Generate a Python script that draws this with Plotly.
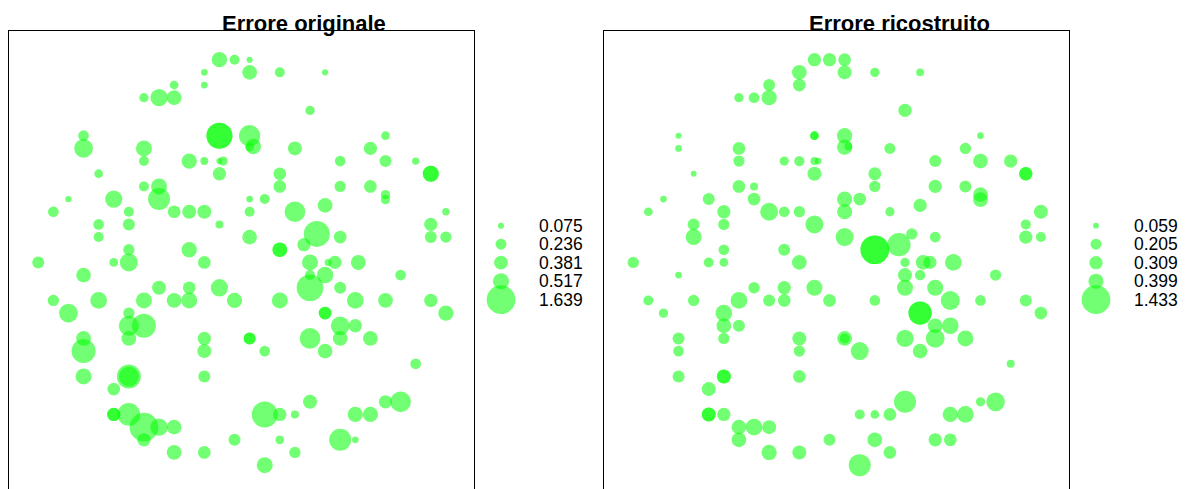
import plotly.graph_objects as go

# ---------------- data ----------------
# sampling locations (shared by both panels): east / north in grid units
east = [
    12, 13, 14,                                  # row 32
    11, 14, 16, 19,                              # 31
    9, 11,                                       # 30
    7, 8, 9,                                     # 29
    18,                                          # 28
    3, 12, 12, 14, 23,                           # 26
    3, 7, 14, 14.25, 17, 22,                     # 25
    7, 10, 11, 12, 12.25, 20, 23, 25,            # 24
    4, 12, 16, 26, 26,                           # 23
    7, 8, 16, 20, 22, 23,                        # 22
    2, 5, 8, 14, 15, 23, 19,                     # 21
    1, 6, 9, 10, 11, 14, 17, 27,                 # 20
    4, 6, 12, 26, 18.45,                         # 19
    4, 14, 20, 26, 27, 17.6,                     # 18
    6, 10, 16, 16,                               # 17
    0, 5, 6, 11, 18, 19.2, 19.65, 21.2,          # 16
    3, 18, 19, 24,                               # 15
    8, 10, 12, 18, 20,                           # 14
    1, 4, 7, 9, 10, 13, 16, 21, 23, 26,          # 13
    2, 6, 19, 19, 27,                            # 12
    6, 7, 20, 21,                                # 11
    3, 6, 11, 14, 14, 18, 20, 22,                # 10
    3, 11, 15, 19,                               # 9
    25,                                          # 8
    3, 6, 6, 11,                                 # 7
    5,                                           # 6
    18, 23, 24,                                  # 5
    5, 5, 6, 15, 16, 17, 21, 22,                 # 4
    7, 8, 9,                                     # 3
    7, 13, 16, 20, 21,                           # 2
    9, 11, 17,                                   # 1
    15,                                          # 0
]
north = [
    32, 32, 32,
    31, 31, 31, 31,
    30, 30,
    29, 29, 29,
    28,
    26, 26, 26, 26, 26,
    25, 25, 25.1, 25.15, 25, 25,
    24, 24, 24, 24, 24, 24, 24, 24,
    23, 23, 23, 23, 23,
    22, 22, 22, 22, 22, 21.35,
    21, 21, 21, 21, 21, 20.95, 20.5,
    20, 20, 20, 20, 20, 20, 20, 20,
    19, 19, 19, 19, 18.25,
    18, 18, 18, 18, 18, 17.4,
    17, 17, 17, 17,
    16, 16, 16, 16, 16, 16, 16, 16,
    15, 15, 15, 15,
    14, 14, 14, 14, 14,
    13, 13, 13, 13, 13, 13, 13, 13, 13, 13,
    12, 12, 12, 12, 12,
    11, 11, 11, 11,
    10, 10, 10, 10, 10, 10, 10, 10,
    9, 9, 9, 9,
    8,
    7, 7, 7, 7,
    6,
    5, 5, 5,
    4, 4, 4, 4, 4, 4, 4, 4,
    3, 3, 3,
    2, 2, 2, 2, 2,
    1, 1, 1,
    0,
]
err_orig = [
    0.466, 0.199, 0.075,
    0.089, 0.430, 0.199, 0.078,
    0.151, 0.089,
    0.172, 0.596, 0.430,
    0.172,
    0.228, 1.345, 1.345, 0.903, 0.151,
    0.696, 0.509, 0.161, 0.466, 0.390, 0.352,
    0.199, 0.466, 0.127, 0.075, 0.172, 0.228, 0.287, 0.106,
    0.151, 0.352, 0.321, 0.509, 0.509,
    0.199, 0.509, 0.321, 0.254, 0.321, 0.172,
    0.080, 0.596, 0.963, 0.089, 0.199, 0.172, 0.430,
    0.228, 0.199, 0.321, 0.390, 0.390, 0.199, 0.853, 0.106,
    0.228, 0.287, 0.127, 0.352, 1.345,
    0.199, 0.430, 0.321, 0.287, 0.254, 0.352,
    0.254, 0.466, 0.430, 0.430,
    0.287, 0.151, 0.645, 0.321, 0.509, 0.098, 0.352, 0.448,
    0.430, 0.199, 0.542, 0.228,
    0.390, 0.321, 0.596, 1.419, 0.287,
    0.254, 0.555, 0.509, 0.430, 0.509, 0.466, 0.509, 0.555, 0.430, 0.352,
    0.696, 0.254, 0.321, 0.321, 0.466,
    0.796, 1.146, 0.696, 0.352,
    0.430, 0.430, 0.352, 0.287, 0.287, 0.853, 0.430, 0.430,
    1.146, 0.390, 0.228, 0.430,
    0.228,
    0.509, 1.146, 0.796, 0.287,
    0.321,
    0.390, 0.352, 0.853,
    0.352, 0.352, 1.025, 1.345, 0.352, 0.127, 0.466, 0.466,
    1.639, 0.596, 0.430,
    0.352, 0.287, 0.151, 0.963, 0.089,
    0.430, 0.321, 0.254,
    0.509,
]
err_ric = [
    0.308, 0.308, 0.281,
    0.376, 0.341, 0.150, 0.111,
    0.250, 0.281,
    0.150, 0.199, 0.407,
    0.308,
    0.063, 0.132, 0.132, 0.407, 0.078,
    0.078, 0.281, 0.407, 0.111, 0.211, 0.222,
    0.222, 0.150, 0.185, 0.111, 0.078, 0.250, 0.376, 0.308,
    0.059, 0.341, 0.294, 0.308, 0.308,
    0.281, 0.111, 0.222, 0.308, 0.250, 0.376,
    0.078, 0.250, 0.281, 0.407, 0.281, 0.376, 0.308,
    0.132, 0.308, 0.564, 0.199, 0.222, 0.391, 0.150, 0.341,
    0.250, 0.222, 0.564, 0.174, 0.222,
    0.445, 0.564, 0.199, 0.308, 0.174, 0.945,
    0.199, 0.250, 1.433, 1.433,
    0.222, 0.174, 0.132, 0.376, 0.150, 0.376, 0.308, 0.485,
    0.078, 0.341, 0.192, 0.222,
    0.222, 0.308, 0.445, 0.445, 0.445,
    0.174, 0.222, 0.485, 0.250, 0.281, 0.281, 0.199, 0.628, 0.199, 0.250,
    0.150, 0.485, 0.945, 0.945, 0.281,
    0.376, 0.250, 0.376, 0.485,
    0.250, 0.222, 0.341, 0.376, 0.174, 0.521, 0.608, 0.445,
    0.199, 0.222, 0.564, 0.376,
    0.111,
    0.250, 0.341, 0.341, 0.281,
    0.341,
    0.842, 0.150, 0.608,
    0.341, 0.341, 0.308, 0.174, 0.132, 0.281, 0.407, 0.485,
    0.376, 0.485, 0.341,
    0.376, 0.250, 0.376, 0.308, 0.281,
    0.407, 0.341, 0.281,
    0.842,
]

leg_orig_vals = [0.075, 0.236, 0.381, 0.517, 1.639]
leg_orig_labels = ["0.075", "0.236", "0.381", "0.517", "1.639"]
leg_ric_vals = [0.059, 0.205, 0.309, 0.399, 1.433]
leg_ric_labels = ["0.059", "0.205", "0.309", "0.399", "1.433"]
titles = ["Errore originale", "Errore ricostruito"]

# ---------------- style / layout ----------------
W, H = 1194, 489
GREEN = "rgba(0,255,0,0.55)"
D_MAX = 28.7          # px diameter of the largest bubble
FONT = "Liberation Sans, Arial, Helvetica, sans-serif"
TOP_PX = 31.0
X_RANGE = [-1.918, 28.882]
Y_RANGE = [-1.883, 34.265]

fig = go.Figure()

panels = [
    dict(vals=err_orig, lv=leg_orig_vals, ll=leg_orig_labels, title=titles[0],
         left=9.3, n=""),
    dict(vals=err_ric, lv=leg_ric_vals, ll=leg_ric_labels, title=titles[1],
         left=604.3, n="2"),
]
leg_axes = ["3", "4"]

annotations = []
for p, la in zip(panels, leg_axes):
    sref = 2.0 * max(p["vals"]) / D_MAX ** 2
    xa = "x" + p["n"]
    ya = "y" + p["n"]
    fig.add_trace(go.Scatter(
        x=east, y=north, mode="markers", xaxis=xa, yaxis=ya,
        marker=dict(size=p["vals"], sizemode="area", sizeref=sref,
                    color=GREEN, opacity=1, line=dict(width=0)),
        hoverinfo="skip", showlegend=False))
    # legend bubbles
    fig.add_trace(go.Scatter(
        x=[26.7] * len(p["lv"]), y=list(range(len(p["lv"]))), mode="markers",
        xaxis="x" + la, yaxis="y" + la,
        marker=dict(size=p["lv"], sizemode="area", sizeref=sref,
                    color=GREEN, opacity=1, line=dict(width=0)),
        hoverinfo="skip", showlegend=False))
    for i, lab in enumerate(p["ll"]):
        annotations.append(dict(
            x=64.3, y=i, xref="x" + la, yref="y" + la, text=lab,
            showarrow=False, xanchor="left", yanchor="middle",
            borderpad=0, borderwidth=0,
            font=dict(family=FONT, size=17.5, color="black")))
    right = p["left"] + 465.0
    annotations.append(dict(
        x=(p["left"] + 294.7) / W, y=1 - 23.3 / H, xref="paper", yref="paper",
        text=p["title"], showarrow=False, xanchor="center", yanchor="middle",
        borderpad=0, borderwidth=0,
        font=dict(family=FONT, size=22, color="black", weight="bold")))
    xdom = [p["left"] / W, right / W]
    ydom = [0, 1 - TOP_PX / H]
    ax_x = dict(domain=xdom, range=X_RANGE, showline=True, side="top",
                linecolor="black", linewidth=1, mirror=False,
                showgrid=False, zeroline=False, showticklabels=False,
                ticks="", fixedrange=True)
    ax_y = dict(domain=ydom, range=Y_RANGE, showline=True, mirror=True,
                linecolor="black", linewidth=1,
                showgrid=False, zeroline=False, showticklabels=False,
                ticks="", fixedrange=True)
    lx = dict(domain=[right / W, (right + 122) / W], range=[0, 122],
              visible=False, fixedrange=True)
    ly = dict(domain=[0, 1], range=[(H - 225.7) / 18.5, -225.7 / 18.5],
              visible=False, fixedrange=True)
    if p["n"] == "":
        fig.update_layout(xaxis=ax_x, yaxis=dict(ax_y, anchor="x"))
    else:
        fig.update_layout(xaxis2=dict(ax_x, anchor="y2"),
                          yaxis2=dict(ax_y, anchor="x2"))
    fig.update_layout(**{"xaxis" + la: dict(lx, anchor="y" + la),
                         "yaxis" + la: dict(ly, anchor="x" + la)})

fig.update_layout(
    width=W, height=H, autosize=False,
    margin=dict(l=0, r=0, t=0, b=0, pad=0),
    paper_bgcolor="white", plot_bgcolor="white",
    annotations=annotations, showlegend=False,
    font=dict(family=FONT),
)

fig.write_html("out.html", config={"displayModeBar": False})
